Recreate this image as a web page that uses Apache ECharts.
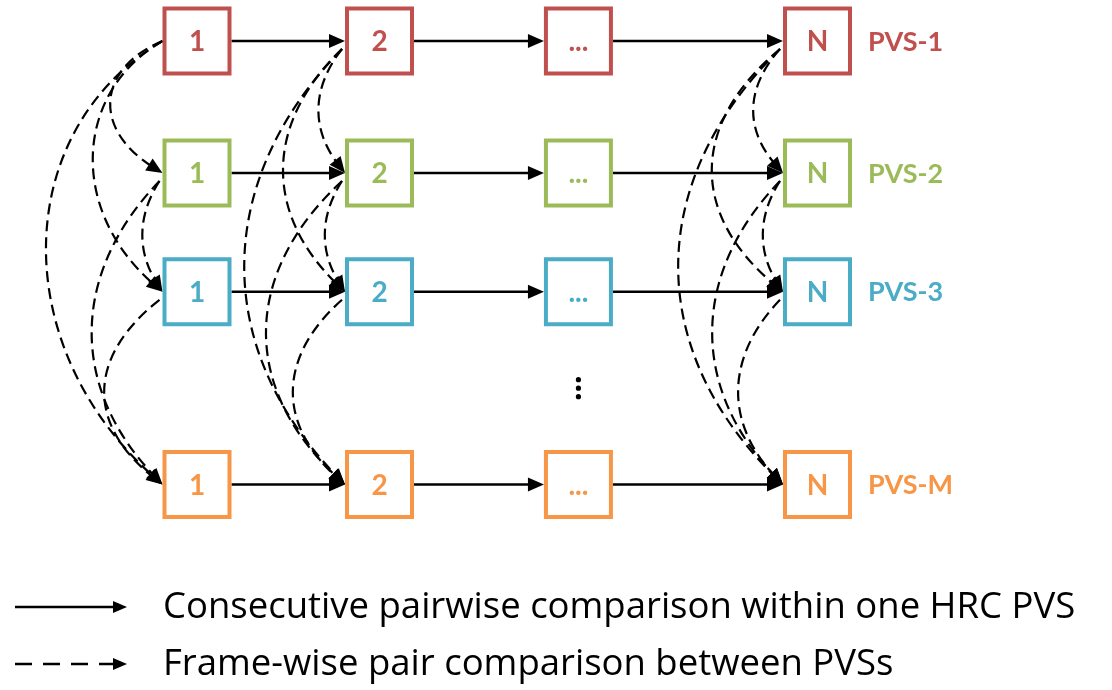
<!DOCTYPE html>
<html><head><meta charset="utf-8">
<script src="https://cdn.jsdelivr.net/npm/echarts@6.0.0/dist/echarts.min.js"></script>
<style>html,body{margin:0;padding:0;background:#fff}#c{width:1112px;height:690px}</style>
</head><body><div id="c"></div>
<script>
// ---------- data ----------
const frames = ['1', '2', '...', 'N'];
const framePos = [1, 2, 3.09, 4.4];          // horizontal slot of each frame
const pvsNames = ['PVS-1', 'PVS-2', 'PVS-3', 'PVS-M'];
const pvsPos = [1, 2, 2.9, 4.36];            // vertical slot of each PVS
const gapMarkFrame = 2;                      // vertical ellipsis under frame "..."
const gapMarkPos = 3.63;                     // between PVS-3 and PVS-M
const crossFrames = [0, 1, 3];               // frames with frame-wise comparisons
const legendLabels = ['Consecutive pairwise comparison within one HRC PVS',
                      'Frame-wise pair comparison between PVSs'];

// ---------- style ----------
const pvsColors = ['#C0504D', '#9BBB59', '#4BACC6', '#F79646'];
const FONT = 'Lato, "Open Sans", sans-serif';
const LEGEND_FONT = '"Open Sans", Lato, sans-serif';
const BOX = 69, BORDER = 4;
const bendDepth = {
  0: {'0-1': 48, '0-2': 66, '0-3': 113, '1-2': 16, '1-3': 66, '2-3': 53},
  1: {'0-1': 22, '0-2': 57, '0-3': 96,  '1-2': 16, '1-3': 74, '2-3': 47},
  3: {'0-1': 25, '0-2': 66, '0-3': 100, '1-2': 16, '1-3': 66, '2-3': 40}
};

// ---------- build series data ----------
const boxData = [];
frames.forEach((f, fi) => pvsNames.forEach((p, pi) => boxData.push([framePos[fi], pvsPos[pi], fi, pi])));
const solidData = [];
pvsNames.forEach((p, pi) => { for (let fi = 0; fi < frames.length - 1; fi++) solidData.push([framePos[fi], pvsPos[pi], framePos[fi + 1], fi, pi]); });
const dashData = [];
crossFrames.forEach(fi => { for (let i = 0; i < pvsNames.length; i++) for (let j = i + 1; j < pvsNames.length; j++) dashData.push([framePos[fi], pvsPos[i], pvsPos[j], fi, i, j]); });
const labelData = pvsNames.map((n, pi) => [framePos[frames.length - 1], pvsPos[pi], pi]);

function arrowHead(tip, dir, L, W) {
  const bx = tip[0] - dir[0] * L, by = tip[1] - dir[1] * L;
  const px = -dir[1] * W / 2, py = dir[0] * W / 2;
  return {type: 'polygon', shape: {points: [tip, [bx + px, by + py], [bx - px, by - py]]}, style: {fill: '#000'}};
}

function renderBox(params, api) {
  const c = api.coord([api.value(0), api.value(1)]);
  const fi = api.value(2), pi = api.value(3);
  const h = (BOX - BORDER) / 2;
  return {type: 'group', children: [
    {type: 'rect', shape: {x: c[0] - h, y: c[1] - h, width: 2 * h, height: 2 * h},
     style: {fill: '#fff', stroke: pvsColors[pi], lineWidth: BORDER}},
    {type: 'text', x: c[0], y: c[1] + 1,
     style: {text: frames[fi], fill: pvsColors[pi], fontSize: 28, fontWeight: 'bold', fontFamily: FONT,
             align: 'center', verticalAlign: 'middle'}}
  ]};
}

function renderSolid(params, api) {
  const a = api.coord([api.value(0), api.value(1)]);
  const b = api.coord([api.value(2), api.value(1)]);
  const x1 = a[0] + BOX / 2, x2 = b[0] - BOX / 2;
  return {type: 'group', children: [
    {type: 'line', shape: {x1: x1, y1: a[1], x2: x2 - 10, y2: a[1]}, style: {stroke: '#000', lineWidth: 2.4}},
    arrowHead([x2, a[1]], [1, 0], 16, 14)
  ]};
}

function renderDash(params, api) {
  const ci = api.coord([api.value(0), api.value(1)]);
  const cj = api.coord([api.value(0), api.value(2)]);
  const fi = api.value(3), i = api.value(4), j = api.value(5);
  const d = bendDepth[fi][i + '-' + j];
  const x = ci[0] - BOX / 2;
  const S = fi === 0 && i === 0 ? [x, ci[1]] : [x - 3, ci[1] + 8];
  const E = [x, cj[1]];
  const h = E[1] - S[1];
  const C1 = [S[0] - 1.33 * d, S[1] + (fi === 0 && i === 0 ? 0.2 : 0.3) * h];
  const C2 = [E[0] - 1.33 * d, E[1] - 0.3 * h];
  let dx = E[0] - C2[0], dy = E[1] - C2[1];
  const len = Math.hypot(dx, dy); dx /= len; dy /= len;
  const back = 10;
  return {type: 'group', children: [
    {type: 'bezierCurve',
     shape: {x1: S[0], y1: S[1], cpx1: C1[0], cpy1: C1[1], cpx2: C2[0] - dx * back, cpy2: C2[1] - dy * back,
             x2: E[0] - dx * back, y2: E[1] - dy * back},
     style: {stroke: '#000', fill: null, lineWidth: 2.2, lineDash: [11, 6]}},
    arrowHead(E, [dx, dy], 16, 14)
  ]};
}

function renderLabel(params, api) {
  const c = api.coord([api.value(0), api.value(1)]);
  const pi = api.value(2);
  return {type: 'text', x: c[0] + BOX / 2 + 16, y: c[1] + 1,
          style: {text: pvsNames[pi], fill: pvsColors[pi], fontSize: 27, fontWeight: 'bold', fontFamily: FONT,
                  align: 'left', verticalAlign: 'middle'}};
}

function renderGap(params, api) {
  const c = api.coord([api.value(0), api.value(1)]);
  const kids = [-8.5, 0, 8.5].map(o => ({type: 'circle', shape: {cx: c[0], cy: c[1] + o, r: 2.6}, style: {fill: '#000'}}));
  return {type: 'group', children: kids};
}

const chart = echarts.init(document.getElementById('c'), null, {renderer: 'canvas'});
const legendY = [607, 664];
chart.setOption({
  animation: false,
  backgroundColor: '#fff',
  grid: {left: 197, right: 294.5, top: 41, bottom: 205.5},
  xAxis: {type: 'value', min: 1, max: 4.4, show: false},
  yAxis: {type: 'value', min: 1, max: 4.36, inverse: true, show: false},
  series: [
    {type: 'custom', coordinateSystem: 'cartesian2d', renderItem: renderDash, data: dashData, clip: false, z: 1, silent: true},
    {type: 'custom', coordinateSystem: 'cartesian2d', renderItem: renderSolid, data: solidData, clip: false, z: 2, silent: true},
    {type: 'custom', coordinateSystem: 'cartesian2d', renderItem: renderBox, data: boxData, clip: false, z: 3, silent: true},
    {type: 'custom', coordinateSystem: 'cartesian2d', renderItem: renderLabel, data: labelData, clip: false, z: 3, silent: true},
    {type: 'custom', coordinateSystem: 'cartesian2d', renderItem: renderGap, data: [[framePos[gapMarkFrame], gapMarkPos]], clip: false, z: 3, silent: true}
  ],
  graphic: [
    {type: 'line', shape: {x1: 15, y1: legendY[0], x2: 114, y2: legendY[0]}, style: {stroke: '#000', lineWidth: 2.4}},
    {type: 'polygon', shape: {points: [[127, legendY[0]], [113, legendY[0] - 6], [113, legendY[0] + 6]]}, style: {fill: '#000'}},
    {type: 'line', shape: {x1: 15, y1: legendY[1], x2: 114, y2: legendY[1]}, style: {stroke: '#000', lineWidth: 2.4, lineDash: [17, 11]}},
    {type: 'polygon', shape: {points: [[127, legendY[1]], [113, legendY[1] - 6], [113, legendY[1] + 6]]}, style: {fill: '#000'}},
    {type: 'text', x: 163, y: legendY[0] + 1, style: {text: legendLabels[0], fill: '#000', fontSize: 36.5, fontFamily: LEGEND_FONT, verticalAlign: 'middle'}},
    {type: 'text', x: 163, y: legendY[1] + 1, style: {text: legendLabels[1], fill: '#000', fontSize: 36.5, fontFamily: LEGEND_FONT, verticalAlign: 'middle'}}
  ]
});
</script></body></html>
